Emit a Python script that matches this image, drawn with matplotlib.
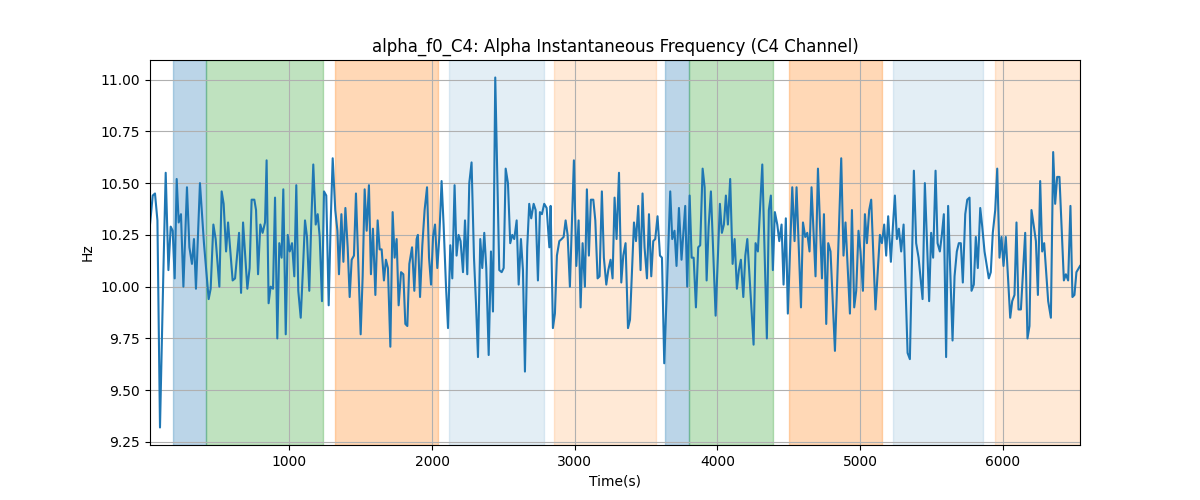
import matplotlib
matplotlib.use("Agg")
import matplotlib.pyplot as plt

title = "alpha_f0_C4: Alpha Instantaneous Frequency (C4 Channel)"

time_s = [
    24, 43, 59, 76, 94, 118, 134, 153, 169, 183, 197, 211, 225, 241, 258, 283, 300, 318, 332, 346,
    374, 402, 435, 449, 468, 484, 510, 526, 540, 557, 571, 603, 620, 648, 662, 676, 706, 722, 736, 755,
    767, 781, 797, 813, 830, 841, 855, 869, 886, 900, 916, 930, 946, 958,
    975, 989, 1003, 1019, 1035, 1049, 1063, 1080, 1096, 1110, 1124, 1140, 1154, 1168, 1185, 1199, 1213, 1229,
    1243, 1259, 1276, 1290, 1304, 1322, 1337, 1348, 1365, 1379, 1393, 1409, 1423, 1437, 1453, 1467, 1481,
    1500, 1514, 1528, 1542, 1558, 1572, 1586, 1603, 1619, 1633, 1647, 1663, 1677, 1691, 1708, 1724, 1738,
    1752, 1766, 1783, 1799, 1813, 1827, 1841, 1860, 1876, 1892,
    1901, 1916, 1932, 1948, 1965, 1979, 1993, 2007, 2021, 2037, 2051, 2067, 2081, 2098, 2112, 2128, 2142,
    2158, 2172, 2186, 2200, 2217, 2231, 2247, 2261, 2277, 2294, 2308, 2322, 2338, 2352, 2366, 2380, 2397,
    2413, 2427, 2443, 2471, 2488, 2502, 2516, 2532, 2548, 2562, 2576, 2593, 2607, 2623, 2637, 2651, 2667,
    2681, 2695, 2712, 2726, 2742, 2756, 2770, 2786, 2803, 2822,
    2831, 2847, 2861, 2875, 2892, 2908, 2922, 2936, 2950, 2966, 2994, 3011, 3027, 3041, 3055, 3071, 3085,
    3099, 3113, 3130, 3144, 3160, 3174, 3190, 3204, 3221, 3235, 3251, 3265, 3279, 3293, 3310, 3326, 3340,
    3356, 3373, 3387, 3415, 3429, 3445, 3461, 3475, 3489, 3506, 3520, 3536, 3550, 3564, 3580, 3597, 3611,
    3627, 3669, 3683, 3699, 3713, 3730, 3748,
    3774, 3788, 3805, 3819, 3833, 3849, 3865, 3879, 3896, 3910, 3924, 3938, 3954, 3987, 4017, 4031, 4045,
    4059, 4073, 4089, 4106, 4120, 4136, 4150, 4164, 4181, 4195, 4209, 4253, 4267, 4283, 4314, 4346, 4360,
    4374, 4388, 4402, 4419, 4433, 4449, 4463, 4479, 4493, 4524, 4540, 4554, 4585, 4599, 4615, 4629, 4645,
    4659, 4687,
    4704, 4732, 4746, 4762, 4776, 4792, 4823, 4867, 4883, 4897, 4928, 4942, 4958, 4972, 4988, 5002, 5019,
    5033, 5047, 5063, 5077, 5107, 5138, 5152, 5168, 5182, 5196, 5215, 5229, 5243, 5257, 5271, 5287, 5304,
    5332, 5348, 5376, 5392, 5409, 5437, 5453, 5483, 5497, 5511, 5528, 5542, 5558, 5572, 5586, 5602, 5616,
    5647, 5661, 5677, 5691, 5705, 5719, 5736, 5750, 5766, 5780, 5796, 5810, 5824, 5841, 5855, 5871, 5901,
    5915, 5929, 5946, 5960, 5976, 5990, 6004, 6020, 6051, 6065, 6081, 6095, 6109, 6126, 6156, 6172, 6186,
    6200, 6217, 6231, 6245, 6261, 6275, 6289, 6317, 6336, 6352, 6366, 6380, 6396, 6427, 6441, 6457, 6473,
    6487, 6501, 6515, 6532, 6540,
]

alpha_f0_hz = [
    10.30, 10.44, 10.45, 10.32, 9.32, 10.08, 10.55, 10.08, 10.29, 10.27, 10.04, 10.52, 10.31, 10.35, 10.00,
    10.48, 10.19, 10.11, 10.23, 9.99, 10.50, 10.21, 9.94, 9.99, 10.30, 10.23, 10.00, 10.46, 10.40, 10.17,
    10.31, 10.03, 10.04, 10.26, 9.97, 10.31, 9.99, 10.09, 10.42, 10.42, 10.37, 10.06, 10.30, 10.26, 10.31,
    10.61, 9.92, 10.00, 9.99, 10.43, 9.75, 10.21, 10.14, 10.47,
    9.77, 10.25, 10.17, 10.21, 10.05, 10.49, 9.98, 9.85, 10.09, 10.32, 10.24, 9.98, 10.31, 10.59, 10.30,
    10.35, 10.24, 9.93, 10.46, 10.44, 9.91, 10.31, 10.62, 10.37, 10.27, 10.06, 10.35, 10.12, 10.38, 10.19,
    9.95, 10.13, 10.15, 10.45, 10.16, 9.77, 10.05, 10.47, 10.27, 10.49, 10.06, 10.28, 9.96, 10.32, 10.18,
    10.18, 10.03, 10.13, 10.09, 9.71, 10.36, 10.14, 10.23, 9.91, 10.07, 10.06, 9.82, 9.81, 10.11, 10.19,
    9.98, 10.23,
    10.25, 9.95, 10.20, 10.37, 10.48, 10.14, 10.01, 10.24, 10.30, 10.09, 10.24, 10.51, 10.30, 10.00, 9.80,
    10.20, 10.04, 10.49, 10.15, 10.25, 10.22, 10.07, 10.32, 10.06, 10.50, 10.60, 10.14, 9.92, 9.66, 10.23,
    10.09, 10.26, 10.09, 9.67, 10.17, 9.88, 11.01, 10.08, 10.07, 10.09, 10.57, 10.50, 10.21, 10.25, 10.23,
    10.32, 10.01, 10.23, 10.08, 9.59, 10.19, 10.40, 10.33, 10.40, 10.37, 10.03, 10.36, 10.35, 10.40, 10.38,
    10.19,
    10.39, 9.80, 9.87, 10.15, 10.22, 10.23, 10.24, 10.32, 10.25, 10.00, 10.61, 10.10, 10.32, 9.90, 10.21,
    10.00, 10.47, 10.15, 10.42, 10.42, 10.32, 10.04, 10.05, 10.46, 10.14, 10.01, 10.08, 10.13, 10.04, 10.43,
    10.23, 10.55, 10.02, 10.15, 10.21, 9.80, 9.84, 10.31, 10.22, 10.39, 10.08, 10.45, 10.19, 10.04, 10.35,
    10.05, 10.22, 10.23, 10.34, 10.15, 10.14, 9.63, 10.46, 10.23, 10.27, 10.10, 10.38, 10.13,
    10.39, 10.00, 10.44, 10.14, 10.14, 9.90, 10.19, 10.20, 10.57, 10.48, 10.03, 10.29, 10.46, 9.86, 10.40,
    10.26, 10.30, 10.44, 10.30, 10.52, 10.11, 10.23, 9.99, 10.08, 10.13, 9.95, 10.15, 10.23, 9.72, 10.21,
    10.17, 10.59, 9.75, 10.37, 10.44, 10.08, 10.36, 10.30, 10.22, 10.30, 10.01, 10.33, 9.87, 10.48, 10.22,
    10.48, 9.90, 10.31, 10.24, 10.26, 10.17, 10.48, 10.05,
    10.57, 10.04, 10.35, 9.82, 10.21, 10.17, 9.69, 10.62, 10.15, 10.31, 9.87, 10.37, 9.90, 9.98, 10.27,
    10.17, 9.98, 10.35, 10.21, 10.37, 10.42, 9.89, 10.25, 10.21, 10.30, 10.15, 10.34, 10.12, 10.29, 10.44,
    10.23, 10.28, 10.17, 10.30, 9.68, 9.65, 10.56, 10.21, 10.14, 9.94, 10.50, 9.93, 10.26, 10.14, 10.56,
    10.21, 10.17, 10.25, 10.35, 9.66, 10.39,
    9.74, 10.05, 10.17, 10.21, 10.21, 10.02, 10.35, 10.42, 10.43, 9.98, 10.01, 10.24, 10.09, 10.38, 10.29,
    10.17, 10.04, 10.07, 10.26, 10.37, 10.57, 10.14, 10.24, 10.10, 10.24, 9.85, 9.93, 9.96, 10.31, 9.89,
    9.89, 10.26, 9.75, 9.81, 10.37, 10.29, 10.22, 9.96, 10.51, 10.17, 10.21, 9.93, 9.85, 10.65, 10.40,
    10.53, 10.53, 10.03, 10.06, 10.03, 10.39, 9.95, 9.96, 10.07, 10.09, 10.10,
]

span_start = [187, 417, 1320, 2121, 2854, 3632, 3798, 4503, 5229, 5943]
span_end = [417, 1236, 2039, 2782, 3567, 3798, 4386, 5150, 5859, 6540]
span_color = ["tab:blue", "tab:green", "tab:orange", "tab:blue", "tab:orange",
              "tab:blue", "tab:green", "tab:orange", "tab:blue", "tab:orange"]
span_alpha = [0.3, 0.3, 0.3, 0.12, 0.17, 0.3, 0.3, 0.3, 0.12, 0.17]

fig, ax = plt.subplots(figsize=(12, 5), dpi=100)
for s, e, c, a in zip(span_start, span_end, span_color, span_alpha):
    ax.axvspan(s, e, color=c, alpha=a)
ax.plot(time_s, alpha_f0_hz, color="tab:blue", linewidth=1.5)
ax.set_xlim(time_s[0], time_s[-1])
ax.set_title(title)
ax.set_xlabel("Time(s)")
ax.set_ylabel("Hz")
ax.grid(True)
fig.savefig("out.png", dpi=100)
